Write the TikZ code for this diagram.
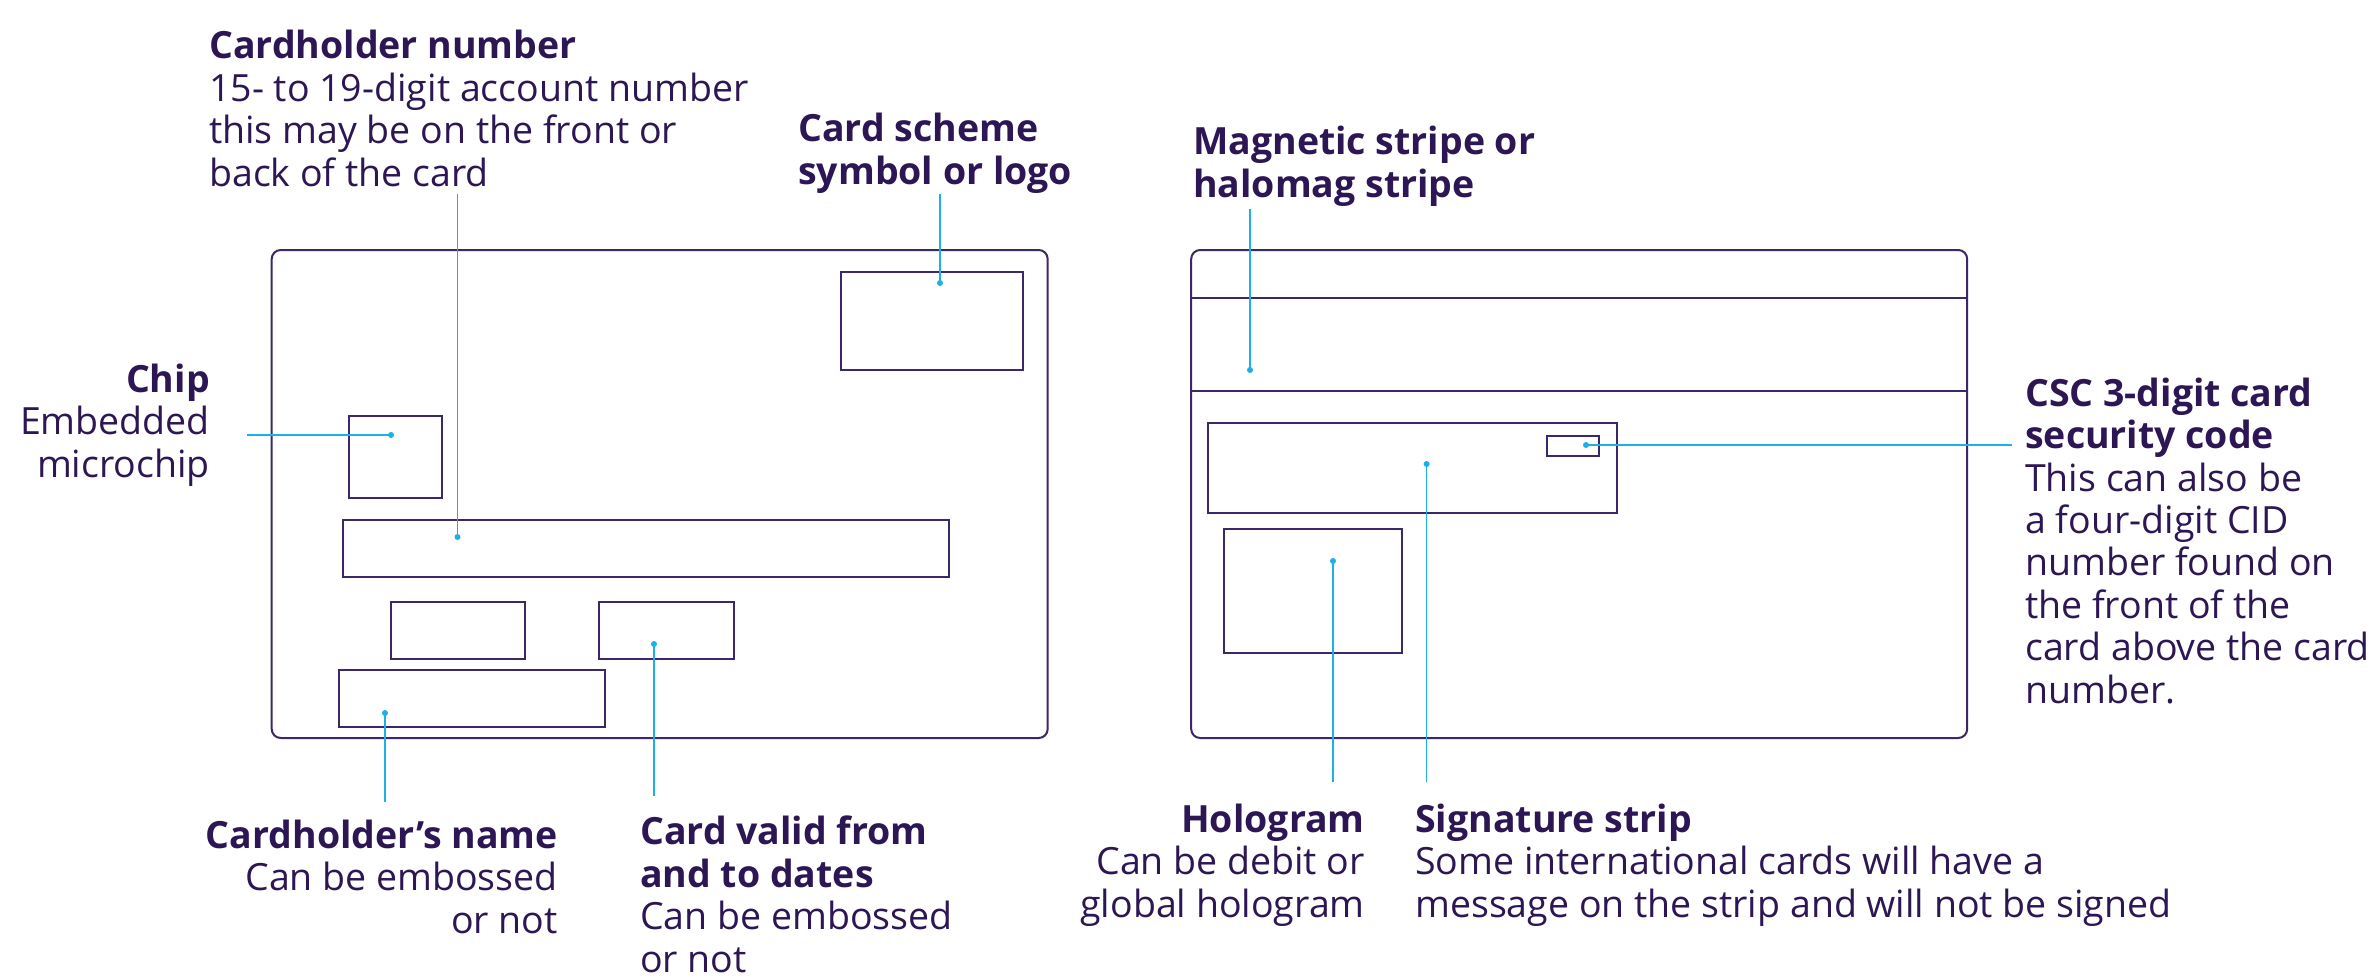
\documentclass[tikz,border=0pt]{standalone}
\usepackage{fontspec}
\setmainfont{Open Sans}
\usepackage{tikz}
\usepackage{xcolor}
\usetikzlibrary{positioning}

\definecolor{ink}{RGB}{45,22,84}
\definecolor{cardline}{RGB}{58,40,104}
\definecolor{leader}{RGB}{27,177,231}

\tikzset{
    part/.style={draw=cardline, line width=2pt, inner sep=0pt, outer sep=0pt},
    card/.style={part, rounded corners=9pt},
    lead/.style={draw=leader, line width=1.6pt},
    pin/.style={circle, fill=leader, inner sep=0pt, minimum size=6pt},
    info/.style={text=ink, inner sep=0pt, font=\fontsize{37.5}{42.4}\selectfont},
}

\begin{document}
\begin{tikzpicture}[x=1pt, y=-1pt]
        \useasboundingbox (0, 0) rectangle (2375, 979);

        % front of the card
        \node[card, minimum width=776, minimum height=488] (front) at (659.7, 494) {};
        \node[part, minimum width=182, minimum height=98] (logo) at (931.6, 320.9) {};
        \node[part, minimum width=93, minimum height=82] (chip) at (395.4, 456.5) {};
        \node[part, minimum width=606, minimum height=57] (number) at (646.3, 548.5) {};
        \node[part, minimum width=134, minimum height=57] (blank) at (458, 630.5) {};
        \node[part, minimum width=135, minimum height=57] (dates) at (666, 630.5) {};
        \node[part, minimum width=266, minimum height=57] (name) at (472, 698.5) {};

        % back of the card
        \node[card, minimum width=776, minimum height=488] (back) at (1579.2, 494) {};
        \node[part, minimum width=776, minimum height=93] (stripe) at (1579.2, 344.5) {};
        \node[part, minimum width=409, minimum height=90] (sign) at (1412.1, 468.3) {};
        \node[part, minimum width=52, minimum height=20] (csc) at (1573, 445.5) {};
        \node[part, minimum width=178, minimum height=124] (holo) at (1312.8, 591.3) {};

        % labels (anchored on the baseline of the last line)
        \node[info, anchor=base west, align=left] (numtxt) at (209, 186)
            {\textbf{Cardholder number}\\15- to 19-digit account number\\this may be on the front or\\back of the card};
        \node[info, anchor=base west, align=left] (logotxt) at (798, 184)
            {\textbf{Card scheme}\\\textbf{symbol or logo}};
        \node[info, anchor=base east, align=right] (chiptxt) at (210, 477)
            {\textbf{Chip}\\Embedded\\microchip};
        \node[info, anchor=base east, align=right] (nametxt) at (558, 933)
            {\textbf{Cardholder’s name}\\Can be embossed\\or not};
        \node[info, anchor=base west, align=left] (datetxt) at (640, 972)
            {\textbf{Card valid from}\\\textbf{and to dates}\\Can be embossed\\or not};
        \node[info, anchor=base west, align=left] (magtxt) at (1193, 197)
            {\textbf{Magnetic stripe or}\\\textbf{halomag stripe}};
        \node[info, anchor=base west, align=left] (csctxt) at (2025, 703)
            {\textbf{CSC 3-digit card}\\\textbf{security code}\\This can also be\\a four-digit CID\\number found on\\the front of the\\card above the card\\number.};
        \node[info, anchor=base east, align=right] (holotxt) at (1365, 917)
            {\textbf{Hologram}\\Can be debit or\\global hologram};
        \node[info, anchor=base west, align=left] (signtxt) at (1415, 917)
            {\textbf{Signature strip}\\Some international cards will have a\\message on the strip and will not be signed};

        % leader ends
        \node[pin] (numpin) at (457.5, 537) {};
        \node[pin] (logopin) at (940, 283) {};
        \node[pin] (chippin) at (391, 435) {};
        \node[pin] (namepin) at (385, 713) {};
        \node[pin] (datepin) at (654, 644) {};
        \node[pin] (magpin) at (1250, 370) {};
        \node[pin] (cscpin) at (1586, 445) {};
        \node[pin] (signpin) at (1426.6, 464) {};
        \node[pin] (holopin) at (1333, 561) {};

        \coordinate (numend) at (457.5, 194);
        \coordinate (logoend) at (940, 194);
        \coordinate (chipend) at (247, 435);
        \coordinate (nameend) at (385, 802);
        \coordinate (dateend) at (654, 796);
        \coordinate (magend) at (1250, 209);
        \coordinate (cscend) at (2012, 445);
        \coordinate (signend) at (1426.6, 782);
        \coordinate (holoend) at (1333, 782);

        \draw[lead] (numend) -- (numpin.center)
            (logoend) -- (logopin.center)
            (chipend) -- (chippin.center)
            (nameend) -- (namepin.center)
            (dateend) -- (datepin.center)
            (magend) -- (magpin.center)
            (cscend) -- (cscpin.center)
            (signend) -- (signpin.center)
            (holoend) -- (holopin.center);
    \end{tikzpicture}
\end{document}
